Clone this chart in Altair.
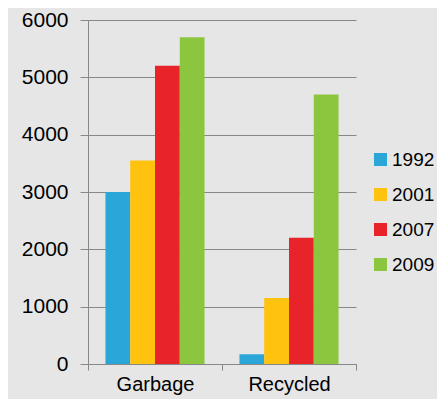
import altair as alt
import pandas as pd

categories = ["Garbage", "Recycled"]
years = ["1992", "2001", "2007", "2009"]
garbage = [3000, 3550, 5200, 5700]
recycled = [170, 1150, 2200, 4700]
colors = ["#2ba6d8", "#ffc20e", "#e8232a", "#8cc63f"]

rows = []
for y, g, r in zip(years, garbage, recycled):
    rows.append({"cat": "Garbage", "year": y, "value": g})
    rows.append({"cat": "Recycled", "year": y, "value": r})
df = pd.DataFrame(rows)

chart = alt.Chart(df).mark_bar().encode(
    x=alt.X("cat:N", sort=categories, title=None,
            scale=alt.Scale(paddingInner=0, paddingOuter=0),
            axis=alt.Axis(labelAngle=0, labelFontSize=20, labelPadding=4,
                          tickBand="extent", tickSize=6, grid=False,
                          domainColor="#888888", tickColor="#888888",
                          labelColor="#000000", labelFont="Liberation Sans")),
    xOffset=alt.XOffset("year:N", sort=years,
                        scale=alt.Scale(paddingInner=0, paddingOuter=0.705)),
    y=alt.Y("value:Q", title=None,
            scale=alt.Scale(domain=[0, 6000], nice=False),
            axis=alt.Axis(values=[0, 1000, 2000, 3000, 4000, 5000, 6000], format="d",
                          labelFontSize=21, labelPadding=12, tickSize=8,
                          gridColor="#888888", domainColor="#888888", tickColor="#888888",
                          labelColor="#000000", labelFont="Liberation Sans")),
    color=alt.Color("year:N", sort=years,
                    scale=alt.Scale(domain=years, range=colors),
                    legend=alt.Legend(title=None, orient="none", legendX=283, legendY=130,
                                      symbolType="square", symbolSize=170,
                                      symbolStrokeWidth=0,
                                      labelFontSize=19, labelFont="Liberation Sans",
                                      labelColor="#000000", rowPadding=15,
                                      labelOffset=2)),
).properties(
    width=268, height=344,
    autosize=alt.AutoSizeParams(type="none"),
    padding={"left": 80, "top": 12, "right": 81, "bottom": 35},
).configure(background="#e6e6e6").configure_view(stroke=None).configure_axis(gridWidth=1.2)

chart.save("out.html", embed_options={"renderer": "svg", "actions": False})
